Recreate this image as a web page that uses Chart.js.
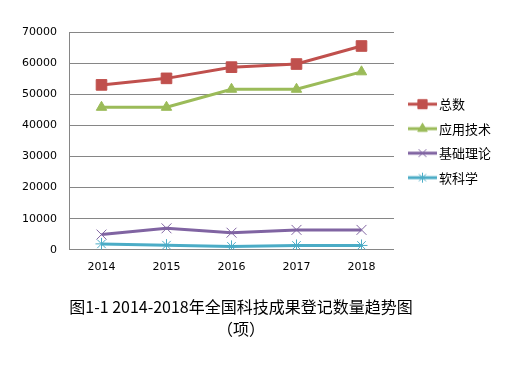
<!DOCTYPE html>
<html>
<head>
<meta charset="utf-8">
<script src="https://cdn.jsdelivr.net/npm/chart.js@4/dist/chart.umd.min.js"></script>
<style>
html,body{margin:0;padding:0;background:#fff;}
#wrap{width:505px;height:380px;}
</style>
</head>
<body>
<div id="wrap"><canvas id="c" width="505" height="380"></canvas></div>
<script>
const categories = ['2014', '2015', '2016', '2017', '2018'];
const totalValues = [53000, 55100, 58700, 59700, 65500];
const appliedValues = [45800, 45800, 51600, 51600, 57200];
const basicValues = [4900, 6900, 5500, 6400, 6400];
const softValues = [1900, 1500, 1100, 1400, 1400];
const seriesNames = ['总数', '应用技术', '基础理论', '软科学'];
const titleLines = ['图1-1 2014-2018年全国科技成果登记数量趋势图', '（项）'];

const colors = ['#C0504D', '#9BBB59', '#8064A2', '#4BACC6'];
const styles = ['rect', 'triangle', 'crossRot', 'star'];
const radii = [7.5, 6, 7, 6];
const legendRadii = [6.5, 5.5, 5.5, 5];

function legendIcon(i) {
  const cv = document.createElement('canvas');
  cv.width = 36; cv.height = 14;
  const ctx = cv.getContext('2d');
  ctx.strokeStyle = colors[i];
  ctx.lineWidth = 3;
  ctx.beginPath(); ctx.moveTo(7, 7); ctx.lineTo(36, 7); ctx.stroke();
  ctx.fillStyle = colors[i];
  ctx.strokeStyle = colors[i];
  ctx.lineWidth = 1;
  Chart.helpers.drawPoint(ctx, {pointStyle: styles[i], radius: legendRadii[i], borderWidth: 1, rotation: 0}, 21.5, 7);
  return cv;
}

const allValues = [totalValues, appliedValues, basicValues, softValues];
const datasets = allValues.map((vals, i) => ({
  label: seriesNames[i],
  data: vals,
  borderColor: colors[i],
  backgroundColor: colors[i],
  borderWidth: 3,
  tension: 0,
  pointStyle: styles[i],
  pointRadius: radii[i],
  pointHoverRadius: radii[i],
  pointBorderWidth: 1,
  pointBackgroundColor: colors[i],
  pointBorderColor: colors[i]
}));

const titleShift = {
  id: 'titleShift',
  afterLayout(chart) {
    const t = chart.titleBlock;
    if (t) { t.left = 0; t.right = 482; }
  }
};

new Chart(document.getElementById('c'), {
  type: 'line',
  data: { labels: categories, datasets: datasets },
  plugins: [titleShift],
  options: {
    responsive: false,
    animation: false,
    layout: { padding: { left: 0, right: 4, top: 32, bottom: 40 } },
    scales: {
      x: {
        offset: true,
        grid: { display: false, drawTicks: false },
        border: { display: true, color: '#868686', width: 1 },
        ticks: { color: '#000', padding: 11, font: { family: 'DejaVu Sans', size: 11 } }
      },
      y: {
        min: 0, max: 70000,
        afterFit: (s) => { s.width = 69; },
        grid: { color: '#868686', lineWidth: 1, drawTicks: false },
        border: { display: true, color: '#868686', width: 1 },
        ticks: { stepSize: 10000, color: '#000', padding: 12, font: { family: 'DejaVu Sans', size: 11 },
          callback: (v) => String(v) }
      }
    },
    plugins: {
      legend: {
        position: 'right',
        fullSize: false,
        labels: {
          usePointStyle: true,
          pointStyleWidth: 27,
          padding: 11.5,
          color: '#000',
          font: { family: 'Noto Sans CJK SC', size: 13 },
          generateLabels: (chart) => chart.data.datasets.map((d, i) => ({
            text: d.label,
            pointStyle: legendIcon(i),
            fillStyle: colors[i],
            strokeStyle: colors[i],
            lineWidth: 0,
            hidden: false,
            datasetIndex: i,
            fontColor: '#000'
          }))
        }
      },
      title: {
        display: true,
        position: 'bottom',
        text: titleLines,
        color: '#000',
        padding: { top: 11, bottom: 0 },
        font: { family: "'Noto Sans CJK SC'", size: 16, weight: 'normal', lineHeight: 1.375 }
      },
      tooltip: { enabled: false }
    }
  }
});
</script>
</body>
</html>
